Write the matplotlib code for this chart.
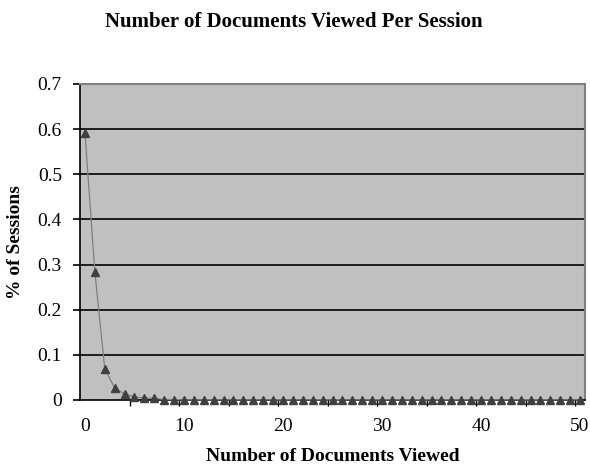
import matplotlib
matplotlib.use("Agg")
import matplotlib.pyplot as plt
import numpy as np

# Share of sessions by number of documents viewed (0..50)
docs_viewed = list(range(51))
share = [0.592, 0.284, 0.069, 0.027, 0.013, 0.007, 0.004, 0.004, 0.001, 0.001] + [0.0005] * 41

y_ticks = [0, 0.1, 0.2, 0.3, 0.4, 0.5, 0.6, 0.7]
y_tick_labels = ["0", "0.1", "0.2", "0.3", "0.4", "0.5", "0.6", "0.7"]
x_ticks = [0, 10, 20, 30, 40, 50]

plt.rcParams["font.family"] = ["Liberation Serif", "DejaVu Serif"]

fig = plt.figure(figsize=(5.9, 4.67), dpi=100)
ax = fig.add_axes([80 / 590, 67 / 467, 505 / 590, 316 / 467])
ax.set_facecolor("#c0c0c0")

for y in y_ticks[1:]:
    ax.axhline(y, color="black", lw=1.2, zorder=1)

ax.plot(docs_viewed, share, color="#808080", lw=0.9, marker="^", ms=6,
        mfc="#404040", mec="#404040", zorder=3, clip_on=False)

ax.set_xlim(-0.5, 50.5)
ax.set_ylim(0, 0.7)
ax.set_yticks(y_ticks)
ax.set_yticklabels(y_tick_labels)
ax.set_xticks(x_ticks)
ax.set_xticks(np.arange(4.5, 50, 5), minor=True)
ax.tick_params(axis="x", which="major", length=0, pad=13, labelsize=14)
ax.tick_params(axis="x", which="minor", length=4, direction="out", width=1)
ax.tick_params(axis="y", length=5, width=1.2, direction="out", pad=8, labelsize=14)

for side in ("left", "bottom"):
    ax.spines[side].set_color("black")
    ax.spines[side].set_linewidth(1.2)
for side in ("top", "right"):
    ax.spines[side].set_color("#808080")
    ax.spines[side].set_linewidth(1.5)

ax.set_xlabel("Number of Documents Viewed", fontsize=14, fontweight="bold", labelpad=9)
ax.set_ylabel("% of Sessions", fontsize=14, fontweight="bold", labelpad=10)
fig.suptitle("Number of Documents Viewed Per Session", x=294 / 590, y=1 - 22 / 467,
             va="center", fontsize=15, fontweight="bold")

fig.savefig("out.png", dpi=100)
